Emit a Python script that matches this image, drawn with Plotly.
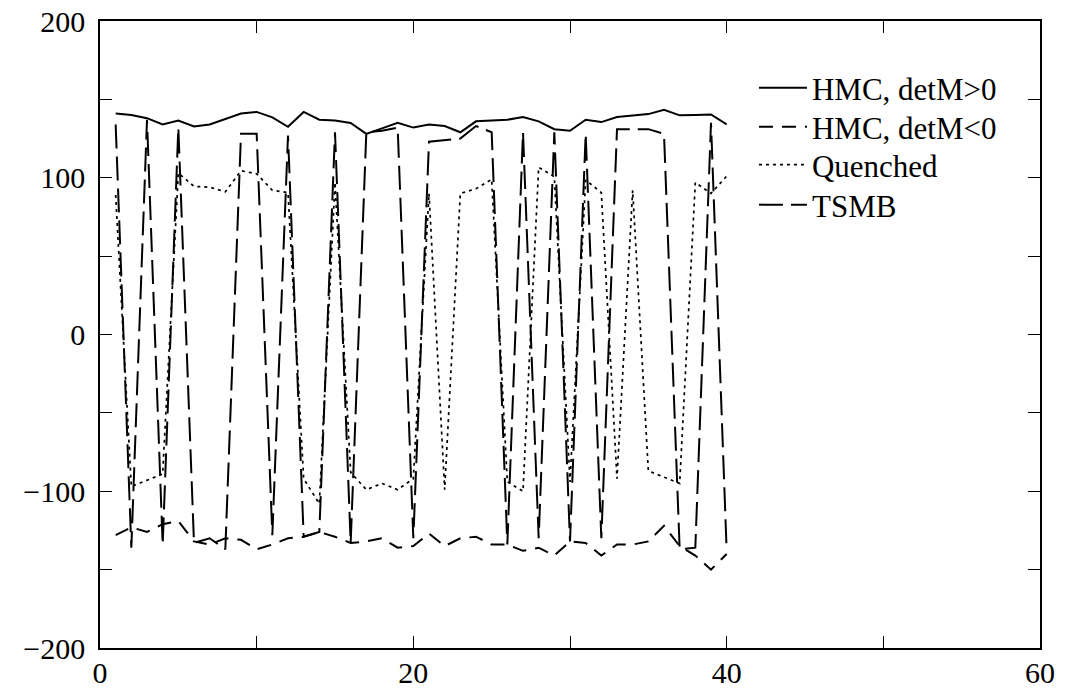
import plotly.graph_objects as go

# x positions (configuration index)
x_vals = [1, 2, 3, 4, 5, 6, 7, 8, 9, 10,
          11, 12, 13, 14, 15, 16, 17, 18, 19, 20,
          21, 22, 23, 24, 25, 26, 27, 28, 29, 30,
          31, 32, 33, 34, 35, 36, 37, 38, 39, 40]

hmc_pos = [141, 140, 138, 134, 136.5, 132.7, 134, 137.5, 141, 142,
           138.5, 132.5, 142, 137, 136.5, 135, 128, 131.5, 135, 132,
           134, 133, 129, 136, 136.5, 137, 138.7, 136, 131, 130,
           137, 135.5, 138.7, 139.8, 140.6, 143.3, 139.8, 140, 140.4, 134]

hmc_neg = [-128, -123, -126, -121, -119, -132, -134, -130, -131, -137,
           -134, -130, -129, -126, -129, -133, -132, -130, -136, -135,
           -127, -135, -130, -129, -134, -134, -138, -136, -141, -132,
           -133, -141, -134, -134, -132, -122, -135, -141, -150, -140]

quenched = [89, -97, -93, -89, 103, 94.5, 94, 91, 104.5, 102.5,
            92, 90.5, -92, -108, 97, -88, -99, -95, -99, -92,
            90, -99, 90, 93, 99, -94, -100, 106.7, 100.7, -94,
            98.6, 90.5, -92, 92, -87, -91, -95, 97, 90, 101]

tsmb = [134, -136, 137, -134, 132, -133, -130, -137, 128, 128,
        -128, 127, -129, -126, 129, -133, 129, 130, 132, -130,
        123, 124, 125, 133, 129, -134, 129, -130, 129, -132,
        128, -130, 131, 131, 131, 128, -137, -136, 135, -138]

series_names = ["HMC, detM>0", "HMC, detM<0", "Quenched", "TSMB"]
x_ticks = [0, 20, 40, 60]
y_ticks = [-200, -100, 0, 100, 200]

fig = go.Figure()
fig.add_trace(go.Scatter(x=x_vals, y=hmc_pos, mode="lines", name=series_names[0],
                         legend="legend",
                         line=dict(color="black", width=2)))
fig.add_trace(go.Scatter(x=x_vals, y=hmc_neg, mode="lines", name=series_names[1],
                         legend="legend2",
                         line=dict(color="black", width=2, dash="14px,9px")))
fig.add_trace(go.Scatter(x=x_vals, y=quenched, mode="lines", name=series_names[2],
                         legend="legend3",
                         line=dict(color="black", width=1.7, dash="3px,4px")))
fig.add_trace(go.Scatter(x=x_vals, y=tsmb, mode="lines", name=series_names[3],
                         legend="legend4",
                         line=dict(color="black", width=2, dash="24px,8px")))

axis_common = dict(
    showline=True, linecolor="black", linewidth=1.5, mirror="ticks",
    ticks="inside", ticklen=12, tickwidth=1.3, tickcolor="black",
    showgrid=False, zeroline=False, automargin=False,
    ticklabeloverflow="allow",
    tickfont=dict(family="Liberation Serif", size=30, color="black"),
)

leg_font = dict(family="Liberation Serif", size=31, color="black")
leg_x = 0.6957
leg_rows = [0.8931, 0.8309, 0.7703, 0.7065]


def leg(yv):
    return dict(x=leg_x, y=yv, xanchor="left", yanchor="middle",
                bgcolor="rgba(0,0,0,0)", borderwidth=0, itemwidth=48,
                font=leg_font)


fig.update_layout(
    template="none",
    width=1068, height=692,
    margin=dict(l=100, r=28, t=21, b=44),
    paper_bgcolor="white", plot_bgcolor="white",
    font=dict(family="Liberation Serif", size=30, color="black"),
    showlegend=True,
    legend=leg(leg_rows[0]),
    legend2=leg(leg_rows[1]),
    legend3=leg(leg_rows[2]),
    legend4=leg(leg_rows[3]),
    xaxis=dict(range=[0, 60], tickvals=x_ticks, ticklabelstandoff=-3,
               minor=dict(dtick=10, tick0=0, ticks="inside", ticklen=12,
                          tickwidth=1.3, tickcolor="black", showgrid=False),
               **axis_common),
    yaxis=dict(range=[-200, 200], tickvals=y_ticks, ticklabelstandoff=7,
               minor=dict(dtick=50, tick0=0, ticks="inside", ticklen=12,
                          tickwidth=1.3, tickcolor="black", showgrid=False),
               **axis_common),
)

fig.write_html(
    "out.html",
    config={"displayModeBar": False},
    post_script="document.body.style.margin='0px';document.body.style.overflow='hidden';",
)
